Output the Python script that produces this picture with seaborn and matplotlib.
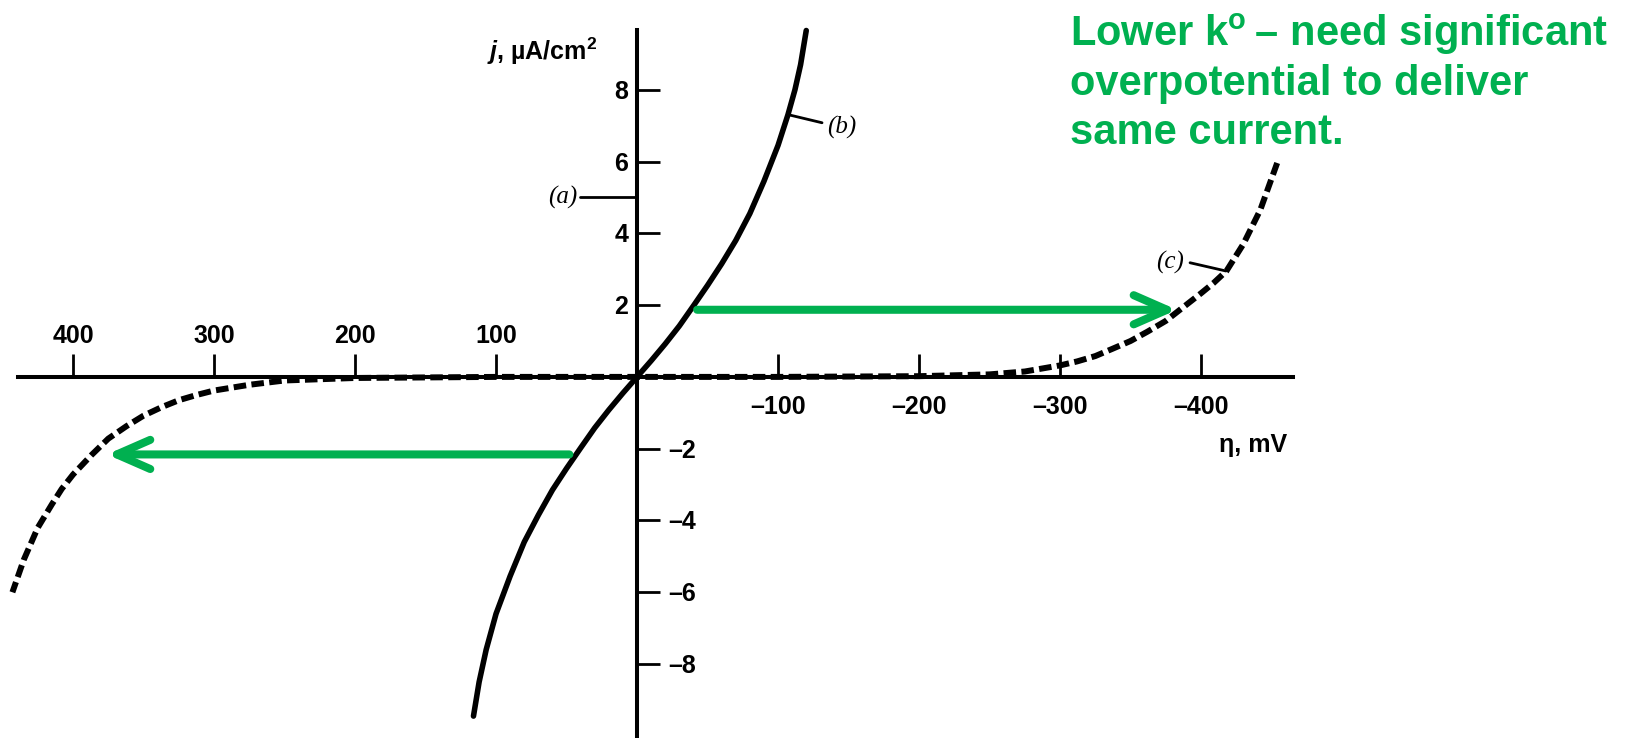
import matplotlib
matplotlib.use("Agg")
import matplotlib.pyplot as plt
import pandas as pd
import seaborn as sns

# Current-overpotential curves for O + e <-> R (alpha = 0.5, 298 K)
# eta in mV (positive to the left), j in uA/cm^2

# curve (b): j0 = 1e-6 A/cm^2
eta_b = [-120, -116, -112, -107, -100, -90, -80, -70, -60, -50, -40, -30,
         -20, -10, 0, 10, 20, 30, 40, 50, 60, 70, 80, 90, 100, 107, 112, 116]
j_b = [9.65, 8.7, 8.0, 7.3, 6.45, 5.45, 4.55, 3.80, 3.15, 2.55, 1.98, 1.42,
       0.92, 0.45, 0.0, -0.45, -0.92, -1.42, -1.98, -2.55, -3.15, -3.85,
       -4.6, -5.55, -6.6, -7.6, -8.5, -9.45]

# curve (c): j0 = 1e-9 A/cm^2
eta_c = [-454, -442, -430, -418, -409, -400, -387, -375, -362, -350, -337,
         -325, -312, -300, -275, -250, -200, -100, 0, 100, 200, 250, 275,
         300, 312, 325, 337, 350, 362, 375, 387, 400, 408, 415, 425, 435, 443]
j_c = [5.96, 4.65, 3.7, 2.95, 2.62, 2.33, 1.93, 1.56, 1.26, 1.0, 0.78,
       0.58, 0.43, 0.32, 0.15, 0.07, 0.02, 0.0, 0.0, 0.0, -0.03, -0.10, -0.22,
       -0.38, -0.50, -0.65, -0.84, -1.08, -1.37, -1.72, -2.18, -2.72, -3.12,
       -3.55, -4.2, -5.1, -6.0]

# curve (a): j0 = 1e-3 A/cm^2, lies on the current axis
j_a_label = 5.0

x_ticks = [400, 300, 200, 100, -100, -200, -300, -400]
y_ticks = [8, 6, 4, 2, -2, -4, -6, -8]

# green arrows: equal current, different overpotential
arrow_right = {"start": (-42.6, 1.87), "end": (-383.0, 1.87)}
arrow_left = {"start": (48.0, -2.16), "end": (376.0, -2.16)}

note_lines = ["Lower k$^{\\mathbf{o}}$\u2009\u2013 need significant",
              "overpotential to deliver",
              "same current."]
note_baselines = [9.22, 7.84, 6.49]

GREEN = "#00B050"

sns.set_theme(style="white")
plt.rcParams["font.family"] = ["Liberation Sans", "DejaVu Sans"]
plt.rcParams["mathtext.fontset"] = "custom"
plt.rcParams["mathtext.rm"] = "Liberation Sans:bold"
plt.rcParams["mathtext.bf"] = "Liberation Sans:bold"
plt.rcParams["mathtext.it"] = "Liberation Sans:italic:bold"

fig = plt.figure(figsize=(16.27, 7.38), dpi=100)
ax = fig.add_axes([0, 0, 1, 1])
ax.set_facecolor("white")

df_b = pd.DataFrame({"eta": eta_b, "j": j_b})
df_c = pd.DataFrame({"eta": eta_c, "j": j_c})

sns.lineplot(data=df_b, x="eta", y="j", ax=ax, sort=False, estimator=None,
             color="black", linewidth=4.0, solid_capstyle="round", zorder=4)
sns.lineplot(data=df_c, x="eta", y="j", ax=ax, sort=False, estimator=None,
             color="black", linewidth=4.3, linestyle=(0, (2.1, 0.9)), zorder=4)

ax.set_xlim(451.8, -702.1)
ax.set_ylim(-10.06, 10.50)
ax.set_xlabel("")
ax.set_ylabel("")
ax.grid(False)

# axes crossing at the origin
for side in ("top", "right"):
    ax.spines[side].set_visible(False)
for side in ("left", "bottom"):
    ax.spines[side].set_position(("data", 0))
    ax.spines[side].set_color("black")
    ax.spines[side].set_linewidth(2.9)
ax.spines["bottom"].set_bounds(439, -465)
ax.spines["left"].set_bounds(-10.06, 9.67)

ax.set_xticks(x_ticks)
ax.set_yticks(y_ticks)
ax.tick_params(axis="both", direction="in", length=16.5, width=2.0,
               color="black", labelbottom=False, labelleft=False,
               bottom=True, left=True, top=False, right=False)

tick_font = dict(fontsize=18, fontweight="bold", color="black")
for v in x_ticks:
    if v > 0:
        ax.text(v, 0.95, f"{v}", ha="center", va="baseline", **tick_font)
    else:
        ax.text(v, -1.03, f"\u2013{-v}", ha="center", va="baseline", **tick_font)
for v in y_ticks:
    if v > 0:
        ax.text(6.4, v - 0.25, f"{v}", ha="right", va="baseline", **tick_font)
    else:
        ax.text(-22, v - 0.25, f"\u2013{-v}", ha="left", va="baseline", **tick_font)

# axis titles
ax.text(28.4, 8.83, "$j$, \u00b5A/cm$^{2}$", ha="right", va="baseline",
        fontsize=18, fontweight="bold", color="black")
ax.text(-461, -2.09, "\u03b7, mV", ha="right", va="baseline",
        fontsize=18, fontweight="bold", color="black")

# curve labels with leaders
lab_font = dict(fontsize=18, style="italic", family="Liberation Serif", color="black")
ax.plot([40.4, 0], [j_a_label, j_a_label], color="black", lw=2.0)
ax.text(42.5, j_a_label, "(a)", ha="right", va="center", **lab_font)
ax.plot([-107.8, -131.2], [7.30, 7.08], color="black", lw=2.0)
ax.text(-134.8, 6.94, "(b)", ha="left", va="center", **lab_font)
ax.plot([-392.2, -417.7], [3.18, 2.95], color="black", lw=2.0)
ax.text(-388.0, 3.18, "(c)", ha="right", va="center", **lab_font)

# green arrows
for arr in (arrow_right, arrow_left):
    ax.annotate("", xy=arr["end"], xytext=arr["start"],
                arrowprops=dict(arrowstyle="->,head_length=2.4,head_width=1.05",
                                mutation_scale=10, lw=5.8, color=GREEN,
                                shrinkA=0, shrinkB=0, capstyle="round",
                                joinstyle="round"),
                zorder=5)

# note
for line, yb in zip(note_lines, note_baselines):
    ax.text(-307.1, yb, line, ha="left", va="baseline", fontsize=30,
            fontweight="bold", color=GREEN)

fig.savefig("out.png", dpi=100, facecolor="white")
